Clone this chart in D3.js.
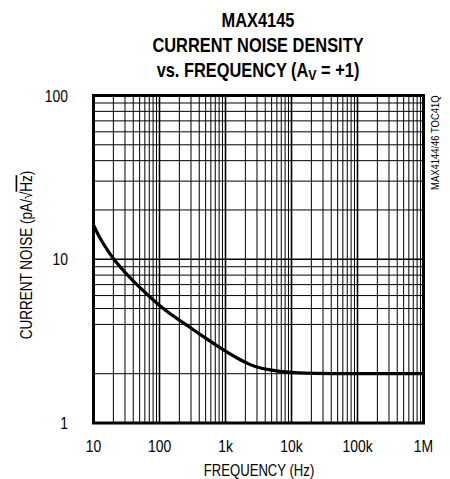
<!DOCTYPE html>
<html>
<head>
<meta charset="utf-8">
<script src="https://cdn.jsdelivr.net/npm/d3@7"></script>
<style>
body { margin: 0; background: #fff; }
text { font-family: "Liberation Sans", Arial, sans-serif; fill: #000; }
</style>
</head>
<body>
<svg id="chart" width="450" height="479"></svg>
<script>
// curve
var freq = [10, 12.5, 15, 20, 30, 50, 100, 150, 200, 300, 400, 800, 1600, 2400, 3300, 6700, 13400, 100000, 1000000];
var noise = [16.2, 13.4, 12.0, 10, 8.3, 6.7, 5.2, 4.6, 4.25, 3.8, 3.5, 2.9, 2.45, 2.26, 2.16, 2.06, 2.01, 2.0, 2.0];

var xTicks = [10, 100, 1000, 10000, 100000, 1000000];
var xTickLabels = ["10", "100", "1k", "10k", "100k", "1M"];
var yTicks = [1, 10, 100];
var yTickLabels = ["1", "10", "100"];
// minor grid; the 3 line of the lower decade is absent in the original
var yGrid = [2, 4, 5, 6, 7, 8, 9, 20, 30, 40, 50, 60, 70, 80, 90];

var titleLines = ["MAX4145", "CURRENT NOISE DENSITY"];

var svg = d3.select("#chart");
var pLeft = 93.5, pRight = 423.5, pTop = 95.5, pBottom = 423;
var narrow = 0.82; // squeeze to look like a condensed face

var x = d3.scaleLog().domain([10, 1e6]).range([pLeft, pRight]);
var y = d3.scaleLog().domain([1, 100]).range([pBottom, pTop]);

var xGrid = [];
for (var d = 10; d < 1e6; d *= 10) {
	for (var k = 1; k < 10; k++) xGrid.push(d * k);
}

var grid = svg.append("g");
grid.selectAll(".vx").data(xGrid).enter().append("line")
	.attr("x1", function (v) { return x(v); }).attr("x2", function (v) { return x(v); })
	.attr("y1", pTop).attr("y2", pBottom)
	.attr("stroke", "#000").attr("stroke-width", function (v) { return xTicks.indexOf(v) >= 0 ? 1.6 : 1; });
grid.selectAll(".hy").data(yGrid.concat([10])).enter().append("line")
	.attr("y1", function (v) { return y(v); }).attr("y2", function (v) { return y(v); })
	.attr("x1", pLeft).attr("x2", pRight)
	.attr("stroke", "#000").attr("stroke-width", function (v) { return v == 10 ? 1.6 : 1; });

// noise curve
var line = d3.line()
	.x(function (d, i) { return x(freq[i]); })
	.y(function (d, i) { return y(noise[i]); })
	.curve(d3.curveBasis);
svg.append("path").datum(noise)
	.attr("d", line)
	.attr("fill", "none").attr("stroke", "#000").attr("stroke-width", 3.2);

// frame
svg.append("rect")
	.attr("x", pLeft).attr("y", pTop)
	.attr("width", pRight - pLeft).attr("height", pBottom - pTop)
	.attr("fill", "none").attr("stroke", "#000").attr("stroke-width", 3);

function place(px, py, rot) {
	return "translate(" + px + "," + py + ")" + (rot ? " rotate(" + rot + ")" : "") + " scale(" + narrow + ",1)";
}

// ticks
svg.selectAll(".xl").data(xTicks).enter().append("text")
	.attr("transform", function (v) { return place(x(v), 452); })
	.attr("text-anchor", "middle").style("font-size", "17px")
	.text(function (v, i) { return xTickLabels[i]; });
svg.selectAll(".yl").data(yTicks).enter().append("text")
	.attr("transform", function (v) { return place(68, y(v) + 6); })
	.attr("text-anchor", "end").style("font-size", "17px")
	.text(function (v, i) { return yTickLabels[i]; });

// titles
svg.selectAll(".tt").data(titleLines).enter().append("text")
	.attr("transform", function (d, i) { return place(258, 27 + i * 25); })
	.attr("text-anchor", "middle").style("font-size", "20px").style("font-weight", "bold")
	.text(function (d) { return d; });
var t3 = svg.append("text")
	.attr("transform", place(258, 77))
	.attr("text-anchor", "middle").style("font-size", "20px").style("font-weight", "bold");
t3.append("tspan").text("vs. FREQUENCY (A");
t3.append("tspan").attr("dy", 3).style("font-size", "15px").text("V");
t3.append("tspan").attr("dy", -3).text(" = +1)");

svg.append("text")
	.attr("transform", place(259, 476))
	.attr("text-anchor", "middle").style("font-size", "16px")
	.text("FREQUENCY (Hz)");

var yt = svg.append("text")
	.attr("transform", place(32, 255, -90))
	.attr("text-anchor", "middle").style("font-size", "16.5px");
yt.append("tspan").text("CURRENT NOISE (pA/\u221A");
yt.append("tspan").style("text-decoration", "overline").text("Hz");
yt.append("tspan").text(")");

svg.append("text")
	.attr("transform", place(438.5, pTop, -90))
	.attr("text-anchor", "end").style("font-size", "11.5px")
	.text("MAX4144/46 TOC41Q");
</script>
</body>
</html>
